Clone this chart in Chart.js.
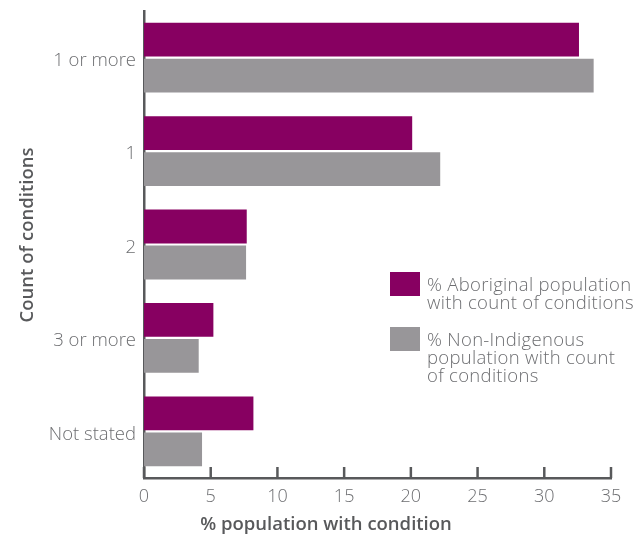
<!DOCTYPE html>
<html>
<head>
<meta charset="utf-8">
<script src="https://cdn.jsdelivr.net/npm/chart.js@4/dist/chart.umd.min.js"></script>
<style>
    html, body { margin: 0; padding: 0; background: #fff; }
    #wrap { position: relative; width: 636px; height: 534px; }
    #legend { position: absolute; left: 390px; top: 272px; font-family: "Open Sans", sans-serif; font-weight: 300; font-size: 18.5px; letter-spacing: 0.3px; color: #6d6e71; }
    .item { display: flex; align-items: flex-start; margin-bottom: 16px; }
    .box { width: 30px; height: 24px; margin-right: 7px; flex: none; }
    .lbl { line-height: 18.3px; margin-top: 2.5px; white-space: nowrap; }
</style>
</head>
<body>
<div id="wrap">
    <canvas id="chart" width="636" height="534"></canvas>
    <div id="legend"></div>
</div>
<script>
const categories = ['1 or more', '1', '2', '3 or more', 'Not stated'];
const aboriginalValues = [32.6, 20.1, 7.7, 5.2, 8.2];
const nonIndigenousValues = [33.7, 22.2, 7.65, 4.1, 4.35];
const seriesLabels = [
    ['% Aboriginal population', 'with count of conditions'],
    ['% Non-Indigenous', 'population with count', 'of conditions']
];
const seriesColors = ['#870061', '#989699'];
const xTicks = [0, 5, 10, 15, 20, 25, 30, 35];
const xTitle = '% population with condition';
const yTitle = 'Count of conditions';

const axisColor = '#58595b';
const labelColor = '#6d6e71';
const fontFamily = '"Open Sans", sans-serif';

// inward tick marks on the x axis, plus the two axis titles
const axisExtras = {
    id: 'axisExtras',
    afterDatasetsDraw(chart) {
        const ctx = chart.ctx;
        const x = chart.scales.x;
        const bottom = chart.chartArea.bottom;
        ctx.save();
        ctx.strokeStyle = axisColor;
        ctx.lineWidth = 2.5;
        xTicks.forEach(v => {
            const px = x.getPixelForValue(v);
            ctx.beginPath();
            ctx.moveTo(px, bottom);
            ctx.lineTo(px, bottom - 11);
            ctx.stroke();
        });
        ctx.restore();
    },
    afterDraw(chart) {
        const ctx = chart.ctx;
        ctx.save();
        ctx.fillStyle = axisColor;
        ctx.font = '600 18.5px ' + fontFamily;
        ctx.textAlign = 'center';
        ctx.textBaseline = 'alphabetic';
        ctx.fillText(xTitle, 326, 530);
        ctx.translate(33, 235);
        ctx.rotate(-Math.PI / 2);
        ctx.fillText(yTitle, 0, 0);
        ctx.restore();
    }
};

const chart = new Chart(document.getElementById('chart'), {
    type: 'bar',
    data: {
        labels: categories,
        datasets: [
            { label: seriesLabels[0].join(' '), data: aboriginalValues, backgroundColor: seriesColors[0] },
            { label: seriesLabels[1].join(' '), data: nonIndigenousValues, backgroundColor: seriesColors[1] }
        ]
    },
    options: {
        indexAxis: 'y',
        responsive: false,
        animation: false,
        categoryPercentage: 0.77,
        barPercentage: 0.94,
        layout: { padding: { top: 11, right: 25, left: 0, bottom: 0 } },
        plugins: { legend: { display: false }, tooltip: { enabled: false } },
        scales: {
            x: {
                min: 0,
                max: 35,
                afterBuildTicks(scale) { scale.ticks = xTicks.map(v => ({ value: v })); },
                afterFit(scale) { scale.height = 56; },
                grid: { display: false, drawTicks: false },
                border: { display: true, color: axisColor, width: 2.5 },
                ticks: { color: labelColor, padding: 8, font: { family: fontFamily, size: 18, weight: 300 } }
            },
            y: {
                afterFit(scale) {
                    scale.width = 144;
                    scale.paddingTop = 0;
                    scale.paddingBottom = 0;
                },
                grid: { display: false, drawTicks: false },
                border: { display: true, color: axisColor, width: 2.5 },
                ticks: { color: labelColor, padding: 8, labelOffset: 3, font: { family: fontFamily, size: 18.5, weight: 300 } }
            }
        }
    },
    plugins: [axisExtras]
});

// legend built from the series arrays
const legend = document.getElementById('legend');
seriesLabels.forEach((lines, i) => {
    const item = document.createElement('div');
    item.className = 'item';
    const box = document.createElement('div');
    box.className = 'box';
    box.style.background = seriesColors[i];
    const lbl = document.createElement('div');
    lbl.className = 'lbl';
    lbl.innerHTML = lines.join('<br>');
    item.appendChild(box);
    item.appendChild(lbl);
    legend.appendChild(item);
});
</script>
</body>
</html>
